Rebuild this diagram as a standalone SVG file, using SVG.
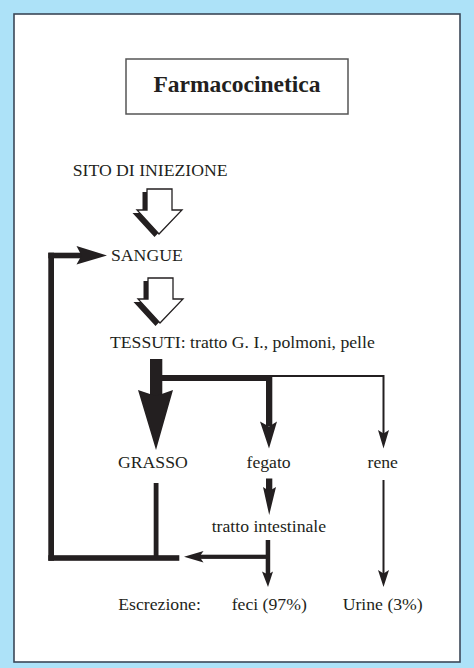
<svg xmlns="http://www.w3.org/2000/svg" width="474" height="668" viewBox="0 0 474 668">
<style>
text{font-family:"Liberation Serif","Times New Roman",serif;font-size:17.7px;fill:#231f20}
.title{font-weight:bold;font-size:23.5px}
.ink{fill:#231f20;stroke:none}
.ln{stroke:#231f20;fill:none;stroke-linecap:butt}
</style>
<defs>
<path id="harrow" d="M-12,0 L13,0 L13,21 L23,21 L0,45 L-22,21 L-12,21 Z"/>
<g id="hollow">
<use href="#harrow" x="-4.5" y="3" fill="#231f20"/>
<use href="#harrow" fill="#fff" stroke="#231f20" stroke-width="1.3"/>
</g>
</defs>
<rect x="0" y="0" width="474" height="668" fill="#ade2f8"/>
<rect x="14" y="14" width="446" height="648" fill="#fff" stroke="#3b4858" stroke-width="1.6"/>
<g id="title">
<rect x="126" y="59" width="222" height="55" fill="#fff" stroke="#555" stroke-width="1.5"/>
<text class="title" x="237" y="92" text-anchor="middle">Farmacocinetica</text>
</g>
<g id="sito"><text x="72.7" y="176">SITO DI INIEZIONE</text></g>
<g id="sangue"><text x="111" y="261">SANGUE</text></g>
<g id="tessuti"><text x="110" y="348">TESSUTI: tratto G. I., polmoni, pelle</text></g>
<g id="grasso"><text x="118" y="468">GRASSO</text></g>
<g id="fegato"><text x="246.5" y="468">fegato</text></g>
<g id="rene"><text x="367.5" y="468">rene</text></g>
<g id="tratto"><text x="211.7" y="531.5">tratto intestinale</text></g>
<g id="escrezione"><text x="118.3" y="610">Escrezione:</text></g>
<g id="feci"><text x="231.7" y="610">feci (97%)</text></g>
<g id="urine"><text x="342.7" y="610">Urine (3%)</text></g>
<g id="connectors">
<use href="#hollow" x="159" y="189"/>
<use href="#hollow" x="160" y="278"/>
<rect class="ink" x="150" y="359" width="12.3" height="37"/>
<path class="ink" d="M138,390 L156,396 L173,390 L156,450 Z"/>
<rect class="ink" x="162" y="375" width="110" height="6"/>
<line class="ln" x1="271" y1="376" x2="383.5" y2="376" stroke-width="2"/>
<rect class="ink" x="266" y="375" width="6.3" height="51"/>
<path class="ink" d="M260,421.5 L269,426.5 L277,421.5 L269,448.5 Z"/>
<line class="ln" x1="383.5" y1="375" x2="383.5" y2="434" stroke-width="2"/>
<path class="ink" d="M378,430 L383.5,433.5 L389,430 L383.5,448.5 Z"/>
<rect class="ink" x="266" y="478.5" width="6.3" height="13"/>
<path class="ink" d="M263,487 L269.2,491 L276,487 L269.2,515 Z"/>
<rect class="ink" x="265.7" y="540" width="4.5" height="36"/>
<path class="ink" d="M262,571.5 L268,574.5 L273,571.5 L268,587 Z"/>
<rect class="ink" x="199" y="554.7" width="70" height="4.2"/>
<path class="ink" d="M184,556.8 L203.5,551 L199.5,556.8 L203.5,562.6 Z"/>
<line class="ln" x1="383.5" y1="480" x2="383.5" y2="574" stroke-width="2"/>
<path class="ink" d="M378,570 L383.5,573.5 L389,570 L383.5,587 Z"/>
<rect class="ink" x="153.7" y="483" width="4.8" height="76"/>
<rect class="ink" x="48.3" y="555.2" width="131" height="5.6"/>
<rect class="ink" x="48.3" y="252.7" width="5.7" height="308"/>
<rect class="ink" x="48.3" y="252.7" width="34" height="5.6"/>
<path class="ink" d="M76.5,246 L107,255.5 L76.5,264.5 L81.5,255.5 Z"/>
</g>
</svg>
